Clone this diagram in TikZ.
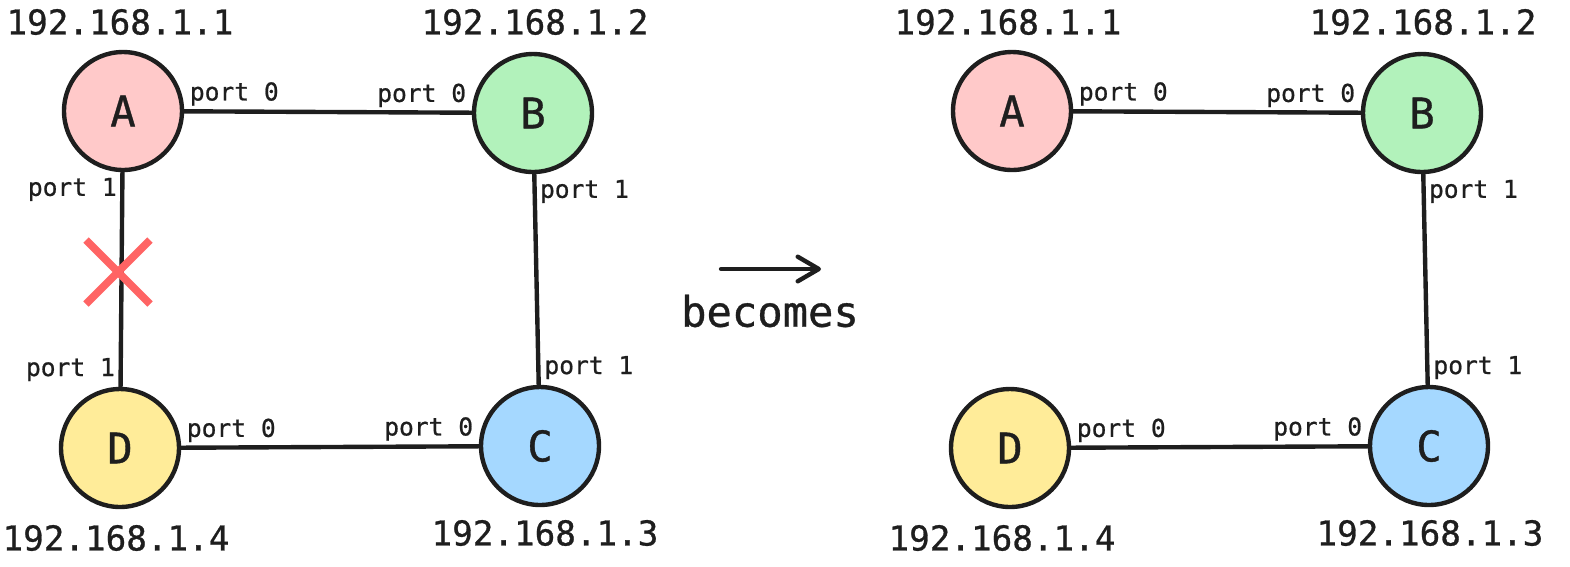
\documentclass[tikz,border=0pt]{standalone}
\usepackage{fontspec}
\setmainfont{DejaVu Sans Mono}[BoldFont=DejaVu Sans Mono, BoldFeatures={FakeBold=0.8}]
\usepackage{tikz}
\usetikzlibrary{positioning,arrows.meta}
\definecolor{ink}{HTML}{1E1E1E}
\definecolor{hostA}{HTML}{FFC9C9}
\definecolor{hostB}{HTML}{B2F2BB}
\definecolor{hostC}{HTML}{A5D8FF}
\definecolor{hostD}{HTML}{FFEC99}
\definecolor{cutred}{HTML}{FF6464}

\begin{document}
\begin{tikzpicture}[
      x=0.02cm, y=-0.02cm,
      every node/.style={text=ink},
      host/.style={draw=ink, circle, line width=2.5pt, minimum size=2.36cm,
                   inner sep=0pt, font=\fontsize{24}{28}\selectfont\bfseries},
      ip/.style={font=\fontsize{19.5}{24}\selectfont\bfseries, inner sep=0pt},
      port/.style={font=\fontsize{14}{16}\selectfont\bfseries, inner sep=2pt},
      link/.style={draw=ink, line width=2.5pt},
      arrow/.style={-{Straight Barb[length=12pt, width=14pt, line width=2.5pt, round]},
                    line width=2.5pt, line cap=round, draw=ink},
  ]
    \useasboundingbox (0,0) rectangle (1570,566);

    %% --- Before: hosts ---
    \node[host, fill=hostA] (A1) at (123,111) {A};
    \node[host, fill=hostB] (B1) at (533,113) {B};
    \node[host, fill=hostC] (C1) at (540,446) {C};
    \node[host, fill=hostD] (D1) at (120,448) {D};

    \node[ip] (ipA1) at (120,22)  {192.168.1.1};
    \node[ip] (ipB1) at (535,22)  {192.168.1.2};
    \node[ip] (ipC1) at (545,533) {192.168.1.3};
    \node[ip] (ipD1) at (116,538) {192.168.1.4};

    %% --- Before: links ---
    \draw[link] (A1) -- node[port, pos=0, above right] {port 0}
                        node[port, pos=1, above left]  {port 0} (B1);
    \draw[link] (B1) -- node[port, pos=0, below right] {port 1}
                        node[port, pos=1, above right] {port 1} (C1);
    \draw[link] (D1) -- node[port, pos=0, above right] {port 0}
                        node[port, pos=1, above left]  {port 0} (C1);
    \draw[link] (A1) -- node[port, pos=0, below left]  {port 1}
                        node[port, pos=1, above left]  {port 1} (D1);

    %% --- Broken link ---
    \coordinate (cut) at (118,272);
    \draw[cutred, line width=4.4pt] ([shift={(-32,-32)}]cut) -- ([shift={(32,32)}]cut)
                                     ([shift={(-32,32)}]cut) -- ([shift={(32,-32)}]cut);

    %% --- Transition ---
    \node[font=\fontsize{24}{28}\selectfont\bfseries] (becomes) at (770,311) {becomes};
    \coordinate (arrS) at (721,269);
    \coordinate (arrE) at (821,269);
    \draw[arrow] (arrS) -- (arrE);

    %% --- After: hosts ---
    \node[host, fill=hostA] (A2) at (1012,111) {A};
    \node[host, fill=hostB] (B2) at (1422,113) {B};
    \node[host, fill=hostC] (C2) at (1429,446) {C};
    \node[host, fill=hostD] (D2) at (1010,448) {D};

    \node[ip] (ipA2) at (1008,22)  {192.168.1.1};
    \node[ip] (ipB2) at (1423,22)  {192.168.1.2};
    \node[ip] (ipC2) at (1430,533) {192.168.1.3};
    \node[ip] (ipD2) at (1002,538) {192.168.1.4};

    %% --- After: links ---
    \draw[link] (A2) -- node[port, pos=0, above right] {port 0}
                        node[port, pos=1, above left]  {port 0} (B2);
    \draw[link] (B2) -- node[port, pos=0, below right] {port 1}
                        node[port, pos=1, above right] {port 1} (C2);
    \draw[link] (D2) -- node[port, pos=0, above right] {port 0}
                        node[port, pos=1, above left]  {port 0} (C2);
  \end{tikzpicture}
\end{document}
